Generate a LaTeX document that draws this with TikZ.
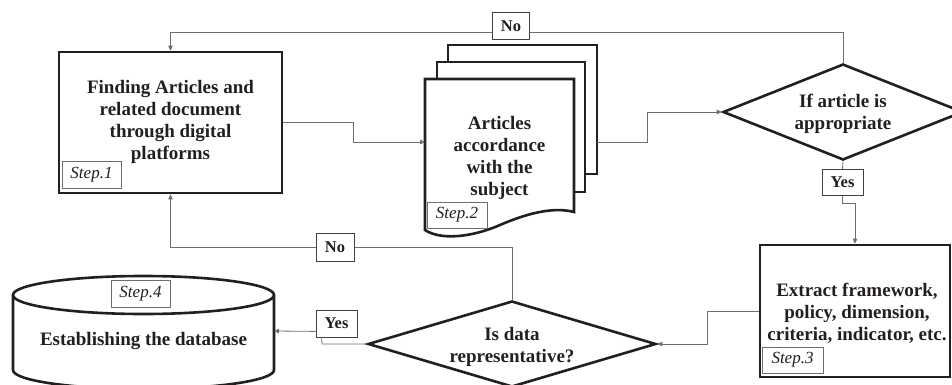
\documentclass[tikz,border=0pt]{standalone}
\usepackage{fontspec}
\setmainfont{Liberation Serif}
\usetikzlibrary{shapes.geometric,arrows.meta}
\definecolor{ink}{HTML}{231F20}
\definecolor{wire}{HTML}{6D6E71}
\tikzset{
  maintext/.style={font=\fontsize{19}{21.8}\selectfont\bfseries, text=ink, align=center},
  thickbox/.style={maintext, draw=ink, line width=2.6pt, inner sep=0pt},
  dia/.style={maintext, diamond, draw=ink, line width=2.6pt, inner sep=0pt, aspect=2.5},
  steplabel/.style={draw=wire, line width=0.9pt, fill=white, text=ink,
    font=\fontsize{17}{19}\selectfont\itshape, minimum width=59pt, minimum height=27pt, inner sep=0pt},
  yn/.style={draw=ink!85, line width=0.8pt, fill=white, text=ink,
    font=\fontsize{16.5}{18}\selectfont\bfseries, minimum height=26pt, inner sep=0pt},
  conn/.style={draw=wire, line width=0.8pt},
  arr/.style={conn, -{Triangle[length=5pt,width=4.5pt]}},
  docline/.style={draw=ink, line width=2.6pt, line join=miter},
}
\begin{document}
\begin{tikzpicture}[x=1pt,y=-1pt]
\useasboundingbox (0,0) rectangle (952,385);

% Step 1 box
\node[thickbox, minimum width=223pt, minimum height=141pt] (s1) at (170.5,122.5) {};
\node[maintext] (s1t) at (170.5,122) {Finding Articles and\\related document\\through digital\\platforms};
\node[steplabel] (st1) at (91.5,174.5) {Step.1};

% Document stack (Step 2)
\draw[docline] (448,62) -- (448,45) -- (597,45) -- (597,174) -- (585,174);
\draw[docline] (437,79) -- (437,62) -- (585,62) -- (585,192) -- (574,192);
\draw[docline, fill=white] (574,212) -- (574,79) -- (425,79) -- (425,230)
  .. controls (440,240) and (470,238) .. (500,225)
  .. controls (530,212) and (555,207) .. (574,212) -- cycle;
\node[maintext] (s2) at (499.5,158) {Articles\\accordance\\with the\\subject};
\node[steplabel, minimum width=60pt, minimum height=26pt] (st2) at (457,215) {Step.2};
\coordinate (s2in) at (425,142);
\coordinate (s2out) at (597,142);

% Decision 1
\node[dia, minimum width=240pt, minimum height=96pt] (d1) at (843,112) {};
\node[maintext] (d1t) at (843,114) {If article is\\appropriate};

% Step 3 box
\node[thickbox, minimum width=190pt, minimum height=132pt] (s3) at (855,311) {};
\node[maintext] (s3t) at (857,313) {Extract framework,\\policy, dimension,\\criteria, indicator, etc.};
\node[steplabel, minimum width=61pt, minimum height=26pt] (st3) at (792.5,360) {Step.3};

% Decision 2
\node[dia, minimum width=288pt, minimum height=86pt] (d2) at (512,344) {};
\node[maintext] (d2t) at (512,347) {Is data\\representative?};

% Database cylinder (Step 4)
\draw[docline, fill=white] (13,295) -- (13,370)
  .. controls (13,380.5) and (71.5,389) .. (143.5,389)
  .. controls (215.5,389) and (274,380.5) .. (274,370) -- (274,295);
\draw[docline] (143.5,295) ellipse [x radius=130.5, y radius=19];
\node[maintext] (db) at (143.5,341) {Establishing the database};
\node[steplabel] (st4) at (140.5,293.5) {Step.4};
\coordinate (dbE) at (274,331);

% Connectors
\draw[arr] (s1.east) -- (353,122.5) |- (s2in);
\draw[arr] (s2out) -- (647,142) |- (d1.west);
\draw[arr] (d1.north) -- (843,32) -| (s1.north);
\node[yn, minimum width=37pt, minimum height=27pt] (no1) at (511,26) {No};

\node[yn, minimum width=41pt] (yes1) at (842.5,182.5) {Yes};
\draw[conn] (d1.south) -- (yes1.north);
\draw[arr] (yes1.south) -- (842.5,203) -| (s3.north);

\draw[arr] (s3.west) -- (707,311) |- (d2.east);

\draw[arr] (d2.north) -- (512,247) -| (s1.south);
\node[yn, minimum width=38pt, minimum height=28pt] (no2) at (335,247) {No};

\node[yn, minimum width=41pt, minimum height=27pt] (yes2) at (336.5,323.5) {Yes};
\draw[conn] (d2.west) -- (322,344) -- ([xshift=6pt]yes2.south west);
\draw[arr] ([yshift=6pt]yes2.south west) -- (dbE);
\end{tikzpicture}
\end{document}
